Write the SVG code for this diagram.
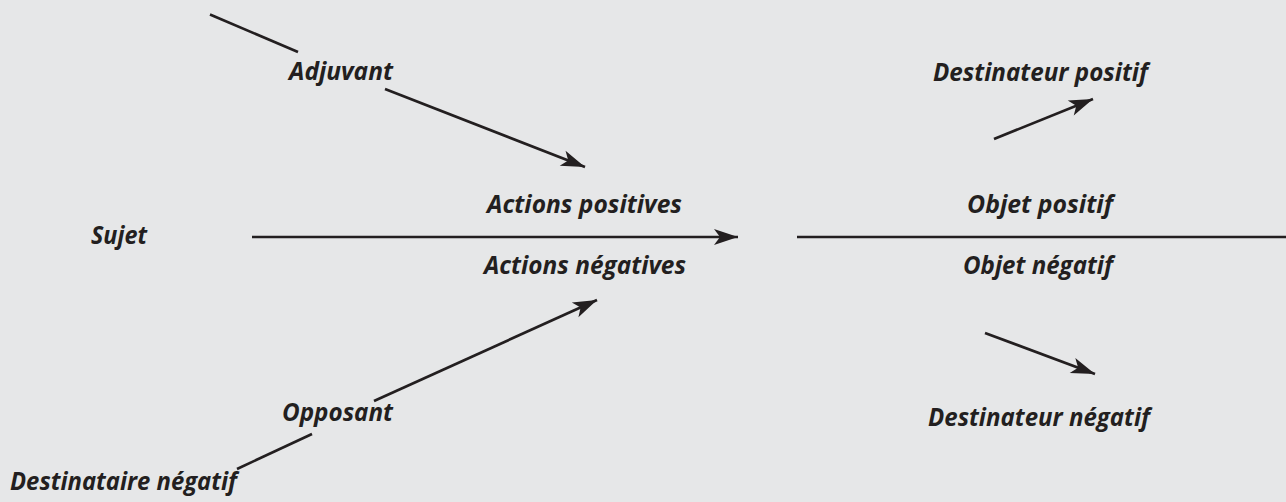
<svg xmlns="http://www.w3.org/2000/svg" width="1286" height="502" viewBox="0 0 1286 502">
  <style>
    .bg { fill: #e6e7e8; }
    .lbl { font-family: "Open Sans", Lato, "Liberation Sans", sans-serif; font-weight: 700; font-style: italic; font-size: 25.5px; fill: #231f20; font-variant-ligatures: none; }
    .ln { stroke: #231f20; stroke-width: 2.7; fill: none; stroke-linecap: butt; }
  </style>
  <defs>
    <marker id="arrow" markerUnits="userSpaceOnUse" markerWidth="30" markerHeight="20" viewBox="-26 -10 28 20" refX="0" refY="0" orient="auto">
      <path d="M0,0 L-24,-8 L-18,0 L-24,8 Z" fill="#231f20"/>
    </marker>
  </defs>
  <rect class="bg" x="0" y="0" width="1286" height="502"/>

  <g id="connectors">
    <line class="ln" x1="210" y1="14.5" x2="298" y2="52"/>
    <line class="ln" x1="385" y1="89" x2="585" y2="167" marker-end="url(#arrow)"/>
    <line class="ln" x1="252" y1="237" x2="738" y2="237" marker-end="url(#arrow)"/>
    <line class="ln" x1="797" y1="237" x2="1286" y2="237"/>
    <line class="ln" x1="994" y1="139" x2="1093" y2="99" marker-end="url(#arrow)"/>
    <line class="ln" x1="985" y1="333" x2="1095" y2="374" marker-end="url(#arrow)"/>
    <line class="ln" x1="374" y1="401" x2="597" y2="300" marker-end="url(#arrow)"/>
    <line class="ln" x1="237" y1="469" x2="312" y2="434"/>
  </g>

  <g id="adjuvant"><text class="lbl" x="289" y="80" textLength="104" lengthAdjust="spacingAndGlyphs">Adjuvant</text></g>
  <g id="sujet"><text class="lbl" x="91" y="244" textLength="56" lengthAdjust="spacingAndGlyphs">Sujet</text></g>
  <g id="actions-positives"><text class="lbl" x="487" y="213" textLength="195" lengthAdjust="spacingAndGlyphs">Actions positives</text></g>
  <g id="actions-negatives"><text class="lbl" x="484" y="274" textLength="202" lengthAdjust="spacingAndGlyphs">Actions négatives</text></g>
  <g id="objet-positif"><text class="lbl" x="967" y="213" textLength="146" lengthAdjust="spacingAndGlyphs">Objet positif</text></g>
  <g id="objet-negatif"><text class="lbl" x="963" y="274" textLength="150" lengthAdjust="spacingAndGlyphs">Objet négatif</text></g>
  <g id="destinateur-positif"><text class="lbl" x="933" y="81" textLength="215" lengthAdjust="spacingAndGlyphs">Destinateur positif</text></g>
  <g id="destinateur-negatif"><text class="lbl" x="928" y="426" textLength="222" lengthAdjust="spacingAndGlyphs">Destinateur négatif</text></g>
  <g id="opposant"><text class="lbl" x="282" y="421" textLength="111" lengthAdjust="spacingAndGlyphs">Opposant</text></g>
  <g id="destinataire-negatif"><text class="lbl" x="10" y="490" textLength="227" lengthAdjust="spacingAndGlyphs">Destinataire négatif</text></g>
</svg>
